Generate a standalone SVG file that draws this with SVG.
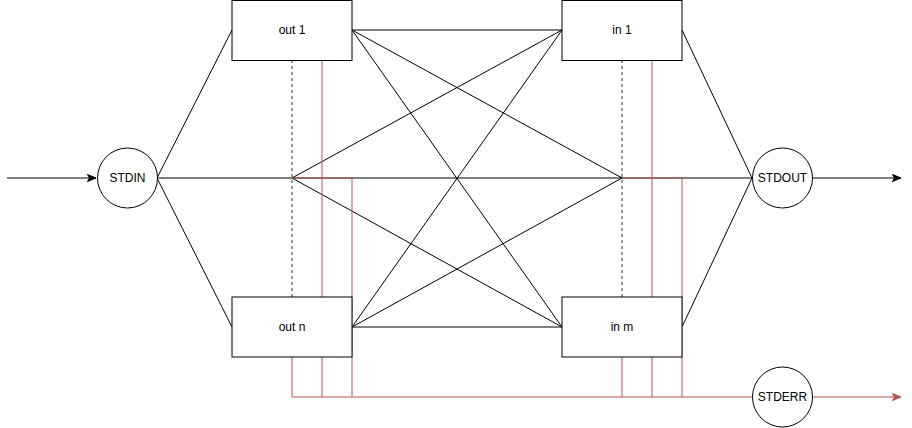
<svg xmlns="http://www.w3.org/2000/svg" width="912" height="428" viewBox="0 0 912 428">
<style>
.e{fill:none;stroke:#000;stroke-width:1}
.r{fill:none;stroke:#b85450;stroke-width:1}
.d{fill:none;stroke:#333;stroke-width:1;stroke-dasharray:3 3}
.box{fill:#fff;stroke:#000;stroke-width:1}
.t{font-family:"Liberation Sans",Arial,sans-serif;font-size:12px;text-anchor:middle;dominant-baseline:central;fill:#000}
</style>
<defs>
<marker id="ab" markerWidth="10" markerHeight="8" refX="9" refY="4" orient="auto" markerUnits="userSpaceOnUse">
<path d="M0.5,0.5 L9,4 L0.5,7.5 L2.5,4 z" fill="#000" stroke="#000" stroke-width="1"/>
</marker>
<marker id="ar" markerWidth="10" markerHeight="8" refX="9" refY="4" orient="auto" markerUnits="userSpaceOnUse">
<path d="M0.5,0.5 L9,4 L0.5,7.5 L2.5,4 z" fill="#b85450" stroke="#b85450" stroke-width="1"/>
</marker>
</defs>
<g id="connectors">
<path class="e" d="M7,178 L96,178" marker-end="url(#ab)"/>
<path class="e" d="M812.5,178 L901,178" marker-end="url(#ab)"/>
<path class="e" d="M157,178 L232,30"/>
<path class="e" d="M157,178 L232,327"/>
<path class="e" d="M157,178 L752,178"/>
<path class="d" d="M292,60 L292,297"/>
<path class="d" d="M622,60 L622,297"/>
<path class="e" d="M292,178 L562,30"/>
<path class="e" d="M292,178 L562,327"/>
<path class="e" d="M352,30 L562,30"/>
<path class="e" d="M352,30 L562,327"/>
<path class="e" d="M352,30 L622,178"/>
<path class="e" d="M352,327 L562,327"/>
<path class="e" d="M352,327 L562,30"/>
<path class="e" d="M352,327 L622,178"/>
<path class="e" d="M682,30 L752,178"/>
<path class="e" d="M682,327 L752,178"/>
<path class="r" d="M292,178 L352,178 L352,397"/>
<path class="r" d="M622,178 L682,178 L682,397"/>
<path class="r" d="M322,60 L322,397"/>
<path class="r" d="M652,60 L652,397"/>
<path class="r" d="M292,357 L292,397 L752,397"/>
<path class="r" d="M622,357 L622,397"/>
<path class="r" d="M812.5,397 L901,397" marker-end="url(#ar)"/>
</g>
<g id="stdin"><circle class="box" cx="127.5" cy="178" r="30"/><text class="t" x="127.5" y="178">STDIN</text></g>
<g id="out1"><rect class="box" x="232" y="0.5" width="120" height="60"/><text class="t" x="292" y="30">out 1</text></g>
<g id="outn"><rect class="box" x="232" y="297" width="120" height="60"/><text class="t" x="292" y="327">out n</text></g>
<g id="in1"><rect class="box" x="562" y="0.5" width="120" height="60"/><text class="t" x="622" y="30">in 1</text></g>
<g id="inm"><rect class="box" x="562" y="297" width="120" height="60"/><text class="t" x="622" y="327">in m</text></g>
<g id="stdout"><circle class="box" cx="782.5" cy="178" r="30"/><text class="t" x="782.5" y="178">STDOUT</text></g>
<g id="stderr"><circle class="box" cx="782.5" cy="397" r="30"/><text class="t" x="782.5" y="397">STDERR</text></g>
</svg>
